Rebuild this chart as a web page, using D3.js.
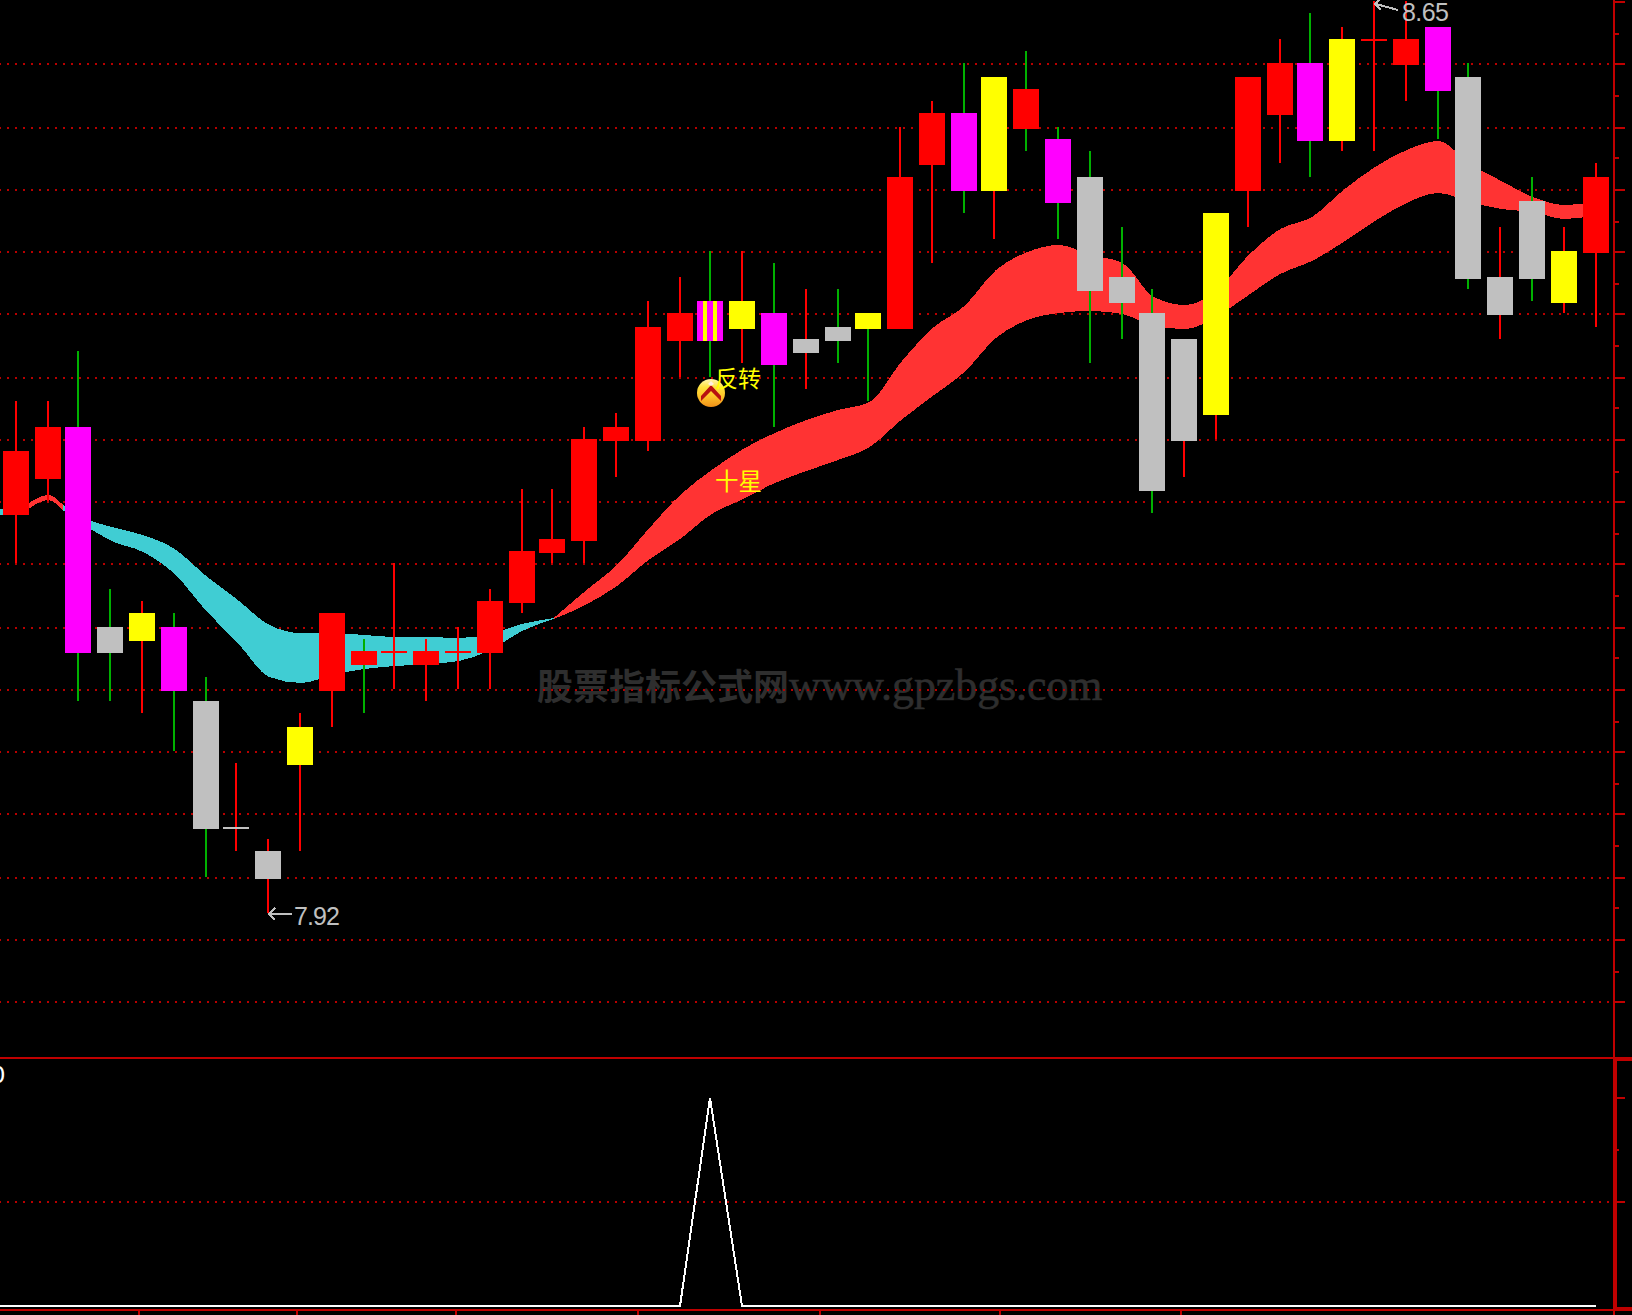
<!DOCTYPE html>
<html>
<head>
<meta charset="utf-8">
<style>html,body{margin:0;padding:0;background:#000;overflow:hidden}svg{display:block}</style>
<script src="https://cdn.jsdelivr.net/npm/d3@7/dist/d3.min.js"></script>
</head>
<body>
<script>
// ---------- data ----------
const highs = [8.33,8.33,8.37,8.18,8.17,8.16,8.11,8.04,7.98,8.08,8.16,8.14,8.20,8.14,8.15,8.18,8.26,8.26,8.31,8.32,8.41,8.43,8.45,8.45,8.44,8.42,8.42,8.40,8.55,8.57,8.60,8.59,8.61,8.55,8.53,8.47,8.42,8.38,8.48,8.59,8.62,8.64,8.63,8.65,8.65,8.63,8.60,8.47,8.51,8.47,8.52];
const bodyTops = [8.29,8.31,8.31,8.15,8.16,8.15,8.09,7.99,7.97,8.07,8.16,8.13,8.13,8.13,8.13,8.17,8.21,8.22,8.30,8.31,8.39,8.40,8.41,8.41,8.40,8.38,8.39,8.40,8.51,8.56,8.56,8.59,8.58,8.54,8.51,8.43,8.40,8.38,8.48,8.59,8.60,8.60,8.62,8.62,8.62,8.63,8.59,8.43,8.49,8.45,8.51];
const bodyBottoms = [8.24,8.27,8.13,8.13,8.14,8.10,7.99,7.99,7.95,8.04,8.10,8.12,8.13,8.12,8.13,8.13,8.17,8.21,8.22,8.30,8.30,8.38,8.38,8.39,8.36,8.37,8.38,8.39,8.39,8.52,8.50,8.50,8.55,8.49,8.42,8.41,8.26,8.30,8.32,8.50,8.56,8.54,8.54,8.62,8.60,8.58,8.43,8.40,8.43,8.41,8.45];
const lows = [8.20,8.25,8.09,8.09,8.08,8.05,7.95,7.97,7.92,7.97,8.07,8.08,8.10,8.09,8.10,8.10,8.16,8.20,8.20,8.27,8.29,8.35,8.35,8.36,8.31,8.34,8.36,8.33,8.39,8.44,8.48,8.46,8.53,8.46,8.36,8.38,8.24,8.27,8.30,8.47,8.52,8.51,8.53,8.53,8.57,8.54,8.42,8.38,8.41,8.40,8.39];
const bodyKinds = "R R M G Y M G G G Y R R R R R R R R R R R R S Y M G G Y R R M Y R M G G G G Y R R M Y R R M G G G Y R".split(" ");
const wickKinds = "R R V V R V V R R R R V R R R R R R R R R R V R V R V V R R V R V V V V V R R R R V R R R V V R V R R".split(" ");

// ribbon edges, first entry is the bar just left of the visible window
const ribbonUpper = [8.244,8.2448,8.2552,8.2384,8.2296,8.2232,8.212,8.1904,8.1712,8.1512,8.1448,8.1448,8.1432,8.1416,8.1416,8.1408,8.144,8.152,8.1568,8.1784,8.1992,8.228,8.2552,8.2752,8.292,8.3048,8.3152,8.3232,8.3296,8.3616,8.3888,8.4064,8.4352,8.4496,8.4552,8.4472,8.4408,8.4136,8.4072,8.4192,8.4472,8.468,8.4776,8.4992,8.5176,8.5312,8.5384,8.52,8.5064,8.4936,8.4872,8.4896];
const ribbonLower = [8.2384,8.24,8.2512,8.2336,8.2184,8.2096,8.192,8.1624,8.1368,8.1096,8.1048,8.1112,8.116,8.1184,8.12,8.1224,8.1312,8.1464,8.156,8.1672,8.1824,8.2032,8.22,8.24,8.252,8.2648,8.2744,8.2832,8.2936,8.3152,8.3344,8.3536,8.3808,8.3952,8.4008,8.4024,8.4,8.3904,8.388,8.3984,8.4152,8.432,8.4424,8.4576,8.4744,8.4888,8.4968,8.4896,8.484,8.4816,8.476,8.4792];
const ribbonRuns = [[-1,0.4,"C"],[0.4,1.45,"H"],[1.45,17,"C"],[17,50,"H"]];

// lower panel signal, first entry is the bar just left of the window
const signal = [0,0,0,0,0,0,0,0,0,0,0,0,0,0,0,0,0,0,0,0,0,0,0,1,0,0,0,0,0,0,0,0,0,0,0,0,0,0,0,0,0,0,0,0,0,0,0,0,0,0,0,0];

const gridPrices = [8.60,8.55,8.50,8.45,8.40,8.35,8.30,8.25,8.20,8.15,8.10,8.05,8.00,7.95,7.90,7.85];
const majorPriceTicks = [8.65].concat(gridPrices);
const minorPriceTicks = [8.625,8.575,8.525,8.475,8.425,8.375,8.325,8.275,8.225,8.175,8.125,8.075,8.025,7.975,7.925,7.875];
const signalGrid = [0.5];
const signalMajor = [1,0.5];
const signalMinor = [0.75];
const dateTickBars = [3.88,8.88,13.9,19.67,25.43,31.12,36.86];

const lowLabel = "7.92", highLabel = "8.65";
const reversalLabel = "反转", starLabel = "十星", zeroLabel = "0";
const watermarkCjk = "股票指标公式网", watermarkLatin = "www.gpzbgs.com";

// ---------- styling ----------
const W = 1632, H = 1315;
const AXIS = "#c00000", GRID = "#b80000";
const kindColor = {R:"#ff0000",M:"#ff00ff",G:"#c0c0c0",Y:"#ffff00",V:"#00b000",S:"#ff00ff",C:"#40cdd3",H:"#ff3333"};

// ---------- scales ----------
const x = d3.scaleLinear().domain([0,50]).range([16.7,1596.2]);
const y = d3.scaleLinear().domain([7.92,8.65]).range([914,1.5]);
const y2 = d3.scaleLinear().domain([0,1]).range([1306,1098]);
const snap = v => 2*Math.ceil(v/2 - 1e-9);
const barLeft = i => 3 + 2*Math.floor((x(i)-16)/2);
const barMid = i => barLeft(i) + 13;

const svg = d3.select("body").append("svg").attr("width",W).attr("height",H)
  .attr("viewBox",`0 0 ${W} ${H}`);
svg.append("rect").attr("width",W).attr("height",H).attr("fill","#000");

const defs = svg.append("defs");
const g1 = defs.append("linearGradient").attr("id","coinFill").attr("x1",0).attr("y1",0).attr("x2",0).attr("y2",1);
[[0,"#fff7b0"],[0.3,"#ffe23a"],[0.6,"#ffc52a"],[1,"#f09018"]].forEach(s=>g1.append("stop").attr("offset",s[0]).attr("stop-color",s[1]));

// watermark
const wm = svg.append("text").attr("x",537).attr("y",700).attr("fill","#2e2e2e");
wm.append("tspan").attr("font-family","'Noto Sans CJK SC'").attr("font-size",36).attr("font-weight",700).text(watermarkCjk);
wm.append("tspan").attr("font-family","'Liberation Serif'").attr("font-size",43.8).attr("stroke","#2e2e2e").attr("stroke-width",0.6).text(watermarkLatin);

// grid
const crisp = sel => sel.attr("shape-rendering","crispEdges");
crisp(svg.append("g").selectAll("line").data(gridPrices).join("line")
  .attr("x1",-1).attr("x2",1613)
  .attr("y1",d=>snap(y(d))).attr("y2",d=>snap(y(d)))
  .attr("stroke",GRID).attr("stroke-width",2).attr("stroke-dasharray","2 6"));
crisp(svg.append("g").selectAll("line").data(signalGrid).join("line")
  .attr("x1",-1).attr("x2",1613)
  .attr("y1",d=>y2(d)).attr("y2",d=>y2(d))
  .attr("stroke",GRID).attr("stroke-width",2).attr("stroke-dasharray","2 6"));

// ribbon
const bars = ribbonUpper.map((u,k)=>({bar:k-1,u,l:ribbonLower[k]}));
const at = b => {
  const f = Math.max(-1,Math.min(49,Math.floor(b)));
  const a = bars[f+1], c = bars[f+2], t = b-f;
  return {bar:b,u:a.u+(c.u-a.u)*t,l:a.l+(c.l-a.l)*t};
};
const area = d3.area().x(d=>x(d.bar)).y0(d=>y(d.l)).y1(d=>y(d.u)).curve(d3.curveMonotoneX);
crisp(svg.append("g").selectAll("path").data(ribbonRuns).join("path")
  .attr("d",r=>area([at(r[0])].concat(bars.filter(b=>b.bar>r[0]&&b.bar<r[1]),[at(r[1])])))
  .attr("fill",r=>kindColor[r[2]]));

// candles
const idx = d3.range(highs.length);
crisp(svg.append("g").selectAll("rect").data(idx).join("rect")
  .attr("x",i=>barMid(i)-1).attr("width",2)
  .attr("y",i=>snap(y(highs[i]))-1)
  .attr("height",i=>snap(y(lows[i]))-snap(y(highs[i])))
  .attr("fill",i=>kindColor[wickKinds[i]]));
crisp(svg.append("g").selectAll("rect").data(idx).join("rect")
  .attr("x",barLeft).attr("width",26)
  .attr("y",i=>snap(y(bodyTops[i]))-1)
  .attr("height",i=>snap(y(bodyBottoms[i]))-snap(y(bodyTops[i]))+2)
  .attr("fill",i=>kindColor[bodyKinds[i]]));
// striped body
const striped = idx.filter(i=>bodyKinds[i]==="S");
[6,16].forEach(off=>crisp(svg.append("g").selectAll("rect").data(striped).join("rect")
  .attr("x",i=>barLeft(i)+off).attr("width",4)
  .attr("y",i=>snap(y(bodyTops[i]))-1)
  .attr("height",i=>snap(y(bodyBottoms[i]))-snap(y(bodyTops[i]))+2)
  .attr("fill",kindColor.Y)));

// extreme labels
const arrow = (x0,y0,x1,y1) => {
  const g = svg.append("g").attr("fill","none").attr("stroke","#c0c0c0").attr("stroke-width",2);
  crisp(g.append("path").attr("d",`M${x0+2},${y0}L${x1},${y1}`));
  crisp(g.append("path").attr("d",`M${x0+7},${y0-6}L${x0+1},${y0}L${x0+7},${y0+6}`));
};
const lowBar = 8, highBar = 43;
arrow(barMid(lowBar),914,barMid(lowBar)+24,914);
svg.append("text").attr("x",barMid(lowBar)+26).attr("y",925).attr("textLength",46)
  .attr("font-family","'Liberation Sans'").attr("font-size",25).attr("fill","#c0c0c0").text(lowLabel);
arrow(barMid(highBar),4,barMid(highBar)+24,10);
svg.append("text").attr("x",barMid(highBar)+28).attr("y",21).attr("textLength",47)
  .attr("font-family","'Liberation Sans'").attr("font-size",25).attr("fill","#c0c0c0").text(highLabel);

// signal annotations
const sigBar = 22;
const coin = svg.append("g").attr("transform",`translate(${barMid(sigBar)+1},393)`);
coin.append("circle").attr("r",14).attr("fill","url(#coinFill)");
coin.append("path").attr("d","M-10,3L0,-8L10,3L10,8L0,-2L-10,8Z").attr("fill","#b81010");
coin.append("path").attr("d","M-3,-9L0,-12L3,-9L0,-7Z").attr("fill","#fff0e0");
svg.append("text").attr("x",barMid(sigBar)+5).attr("y",387).attr("font-family","'Noto Sans CJK SC'")
  .attr("font-size",23).attr("fill","#ffff00").text(reversalLabel);
svg.append("text").attr("x",barMid(sigBar)+5).attr("y",490).attr("font-family","'Noto Sans CJK SC'")
  .attr("font-size",23.5).attr("fill","#ffff00").text(starLabel);

// lower panel line
const sigLine = d3.line().x((d,k)=>k===0?0:barMid(k-1)).y(d=>y2(d));
crisp(svg.append("path").attr("d",sigLine(signal)).attr("fill","none").attr("stroke","#fff").attr("stroke-width",2));
svg.append("text").attr("x",-10).attr("y",1083).attr("font-family","'Liberation Mono'").attr("font-size",26).attr("fill","#fff").text(zeroLabel);

// frame and axes
const rects = [
  [0,1057,1632,2],[1615,1057,17,4],
  [0,1309,1632,2],[1615,1307,17,4],
  [1613,0,2,1315],[1615,1059,2,250]
];
crisp(svg.append("g").selectAll("rect").data(rects).join("rect")
  .attr("x",d=>d[0]).attr("y",d=>d[1]).attr("width",d=>d[2]).attr("height",d=>d[3]).attr("fill",AXIS));

const ticks = (vals,scale,len,snapIt) => crisp(svg.append("g").selectAll("rect").data(vals).join("rect")
  .attr("x",1615).attr("width",len)
  .attr("y",d=>(snapIt?snap(scale(d)):scale(d))-1).attr("height",2).attr("fill",AXIS));
ticks(majorPriceTicks,y,10,true);
ticks(minorPriceTicks,y,4,true);
ticks(signalMajor,y2,10,false);
ticks(signalMinor,y2,4,false);

crisp(svg.append("g").selectAll("rect").data(dateTickBars).join("rect")
  .attr("x",d=>Math.round(x(d))-1).attr("y",1311).attr("width",2).attr("height",4).attr("fill",AXIS));
crisp(svg.append("rect").attr("x",1613).attr("y",1311).attr("width",2).attr("height",4).attr("fill",AXIS));
</script>
</body>
</html>
